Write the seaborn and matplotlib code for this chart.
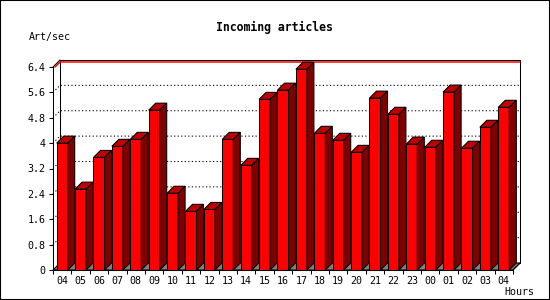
import matplotlib
matplotlib.use("Agg")
import matplotlib.pyplot as plt
from matplotlib.patches import Polygon, Rectangle
from matplotlib.lines import Line2D
import seaborn as sns
import pandas as pd
import numpy as np

hours = ["04", "05", "06", "07", "08", "09", "10", "11", "12", "13", "14", "15",
         "16", "17", "18", "19", "20", "21", "22", "23", "00", "01", "02", "03", "04"]
art_per_sec = [4.00, 2.55, 3.55, 3.90, 4.12, 5.04, 2.42, 1.85, 1.91, 4.12, 3.30, 5.38,
               5.67, 6.33, 4.31, 4.09, 3.71, 5.42, 4.91, 3.97, 3.87, 5.61, 3.84, 4.50, 5.13]
y_ticks = [0, 0.8, 1.6, 2.4, 3.2, 4, 4.8, 5.6, 6.4]
y_tick_labels = ["0", "0.8", "1.6", "2.4", "3.2", "4", "4.8", "5.6", "6.4"]
title = "Incoming articles"
y_label = "Art/sec"
x_label = "Hours"

W, H = 550, 300
sns.set_style("white")
plt.rcParams["font.family"] = ["DejaVu Sans Mono", "DejaVu Sans"]
plt.rcParams["text.color"] = "black"
fig = plt.figure(figsize=(W / 100, H / 100), dpi=100)
fig.patch.set_facecolor("white")

# front plane of the 3-D box in pixels
L, R, B, T = 53, 513, 270, 67
ax = fig.add_axes([L / W, (H - B) / H, (R - L) / W, (B - T) / H])
n = len(hours)
x0, x1 = -0.5, n - 0.5
ymax = 6.4
ax.set_xlim(x0, x1)
ax.set_ylim(0, ymax)
ax.set_facecolor("none")

DEPTH = 7
ddx = DEPTH * (x1 - x0) / (R - L)
ddy = DEPTH * ymax / (B - T)
px_y = ymax / (B - T)
lw1 = 0.75

df = pd.DataFrame({"slot": np.arange(n), "hour": hours, "value": art_per_sec})
sns.barplot(data=df, x="slot", y="value", color="#ff0000", saturation=1,
            width=0.6, edgecolor="black", linewidth=lw1, ax=ax, zorder=5)

# back wall and floor
back = Polygon([(x0 + ddx, ddy), (x1 + ddx, ddy), (x1 + ddx, ymax + ddy), (x0 + ddx, ymax + ddy)],
               closed=True, facecolor="white", edgecolor="black", linewidth=lw1, zorder=1, clip_on=False)
ax.add_patch(back)
floor = Polygon([(x0, 0), (x1, 0), (x1 + ddx, ddy), (x0 + ddx, ddy)], closed=True,
                facecolor="#808080", edgecolor="black", linewidth=lw1, zorder=2, clip_on=False)
ax.add_patch(floor)

# grid on back wall + left wall
for v in y_ticks[1:-1]:
    ax.add_line(Line2D([x0, x0 + ddx, x1 + ddx], [v, v + ddy, v + ddy], color="black",
                       linewidth=lw1, linestyle=(0, (1.2, 2.2)), zorder=3, clip_on=False))
# red top line
rv = ymax - 2 * px_y
ax.add_line(Line2D([x0 + 2 * ddx / DEPTH, x0 + ddx, x1 + ddx], [ymax, rv + ddy, rv + ddy],
                   color="#ff0000", linewidth=1.1, zorder=3, clip_on=False))
# frame edges
ax.add_line(Line2D([x0, x0 + ddx], [ymax, ymax + ddy], color="black", linewidth=lw1, zorder=4, clip_on=False))
ax.add_line(Line2D([x1, x1 + ddx], [0, ddy], color="black", linewidth=lw1, zorder=4, clip_on=False))

# 3-D faces of bars
for p in list(ax.patches):
    if not isinstance(p, Rectangle):
        continue
    x, w, h = p.get_x(), p.get_width(), p.get_height()
    top = Polygon([(x, h), (x + w, h), (x + w + ddx, h + ddy), (x + ddx, h + ddy)], closed=True,
                  facecolor="#c00000", edgecolor="black", linewidth=lw1, zorder=6, clip_on=False)
    side = Polygon([(x + w, 0), (x + w, h), (x + w + ddx, h + ddy), (x + w + ddx, ddy)], closed=True,
                   facecolor="#800000", edgecolor="black", linewidth=lw1, zorder=6, clip_on=False)
    ax.add_patch(top)
    ax.add_patch(side)
    p.set_clip_on(False)

for s in ["top", "right"]:
    ax.spines[s].set_visible(False)
for s in ["left", "bottom"]:
    ax.spines[s].set_color("black")
    ax.spines[s].set_linewidth(lw1)
    ax.spines[s].set_zorder(7)

ax.set_yticks(y_ticks)
ax.set_yticklabels(y_tick_labels)
ax.set_xticks(np.arange(n))
ax.set_xticklabels(hours)
ax.set_xticks(np.arange(n + 1) - 0.5, minor=True)
ax.tick_params(axis="y", which="major", direction="out", length=3, width=lw1, pad=2.5,
               labelsize=7.2, colors="black", labelcolor="black", left=True)
ax.tick_params(axis="x", which="major", length=0, pad=4, labelsize=7.2, colors="black",
               labelcolor="black")
ax.tick_params(axis="x", which="minor", direction="out", length=2.6, width=lw1, bottom=True,
               colors="black")
ax.set_xlabel("")
ax.set_ylabel("")

fig.text(274 / W, 1 - 27 / H, title, ha="center", va="center", fontsize=8.3,
         fontweight="bold", color="black")
fig.text(29 / W, 1 - 37 / H, y_label, ha="left", va="center", fontsize=7.2, color="black")
fig.text(534 / W, 1 - 292 / H, x_label, ha="right", va="center", fontsize=7.2, color="black")

fig.patches.append(Rectangle((0, 0), 1, 1, transform=fig.transFigure, fill=False,
                             edgecolor="black", linewidth=1.5, zorder=10))

fig.savefig("out.png", dpi=100, facecolor="white")
